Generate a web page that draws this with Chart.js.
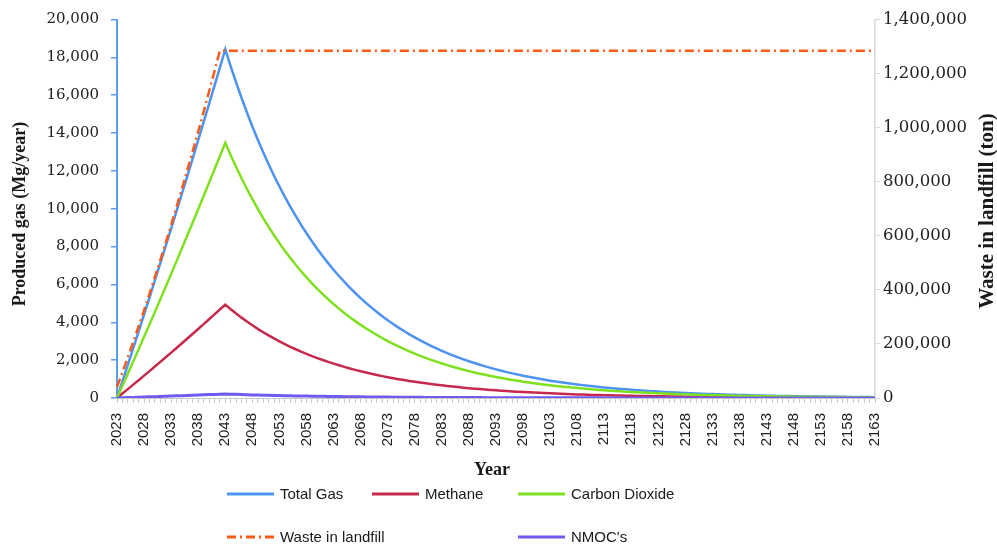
<!DOCTYPE html>
<html>
<head>
<meta charset="utf-8">
<script src="https://cdn.jsdelivr.net/npm/chart.js@4.4.1/dist/chart.umd.min.js"></script>
<style>
  html, body { margin: 0; padding: 0; background: #ffffff; }
  #wrap { width: 997px; height: 546px; position: relative; }
</style>
</head>
<body>
<div id="wrap"><canvas id="chart" width="997" height="546"></canvas></div>
<script>
// Years of the projection
const years = [
  2023, 2024, 2025, 2026, 2027, 2028, 2029, 2030, 2031, 2032,
  2033, 2034, 2035, 2036, 2037, 2038, 2039, 2040, 2041, 2042,
  2043, 2044, 2045, 2046, 2047, 2048, 2049, 2050, 2051, 2052,
  2053, 2054, 2055, 2056, 2057, 2058, 2059, 2060, 2061, 2062,
  2063, 2064, 2065, 2066, 2067, 2068, 2069, 2070, 2071, 2072,
  2073, 2074, 2075, 2076, 2077, 2078, 2079, 2080, 2081, 2082,
  2083, 2084, 2085, 2086, 2087, 2088, 2089, 2090, 2091, 2092,
  2093, 2094, 2095, 2096, 2097, 2098, 2099, 2100, 2101, 2102,
  2103, 2104, 2105, 2106, 2107, 2108, 2109, 2110, 2111, 2112,
  2113, 2114, 2115, 2116, 2117, 2118, 2119, 2120, 2121, 2122,
  2123, 2124, 2125, 2126, 2127, 2128, 2129, 2130, 2131, 2132,
  2133, 2134, 2135, 2136, 2137, 2138, 2139, 2140, 2141, 2142,
  2143, 2144, 2145, 2146, 2147, 2148, 2149, 2150, 2151, 2152,
  2153, 2154, 2155, 2156, 2157, 2158, 2159, 2160, 2161, 2162,
  2163
];

// Total landfill gas (Mg/year)
const totalGas = [
  0, 872, 1749, 2632, 3519, 4412, 5310, 6213, 7122, 8035,
  8953, 9877, 10806, 11740, 12680, 13625, 14574, 15529, 16489, 17454,
  18425,
  17526, 16672, 15859, 15085, 14349, 13650, 12984, 12351, 11748, 11175,
  10630, 10112, 9619, 9150, 8703, 8279, 7875, 7491, 7126, 6778,
  6448, 6133, 5834, 5549, 5279, 5021, 4777, 4544, 4322, 4111,
  3911, 3720, 3539, 3366, 3202, 3046, 2897, 2756, 2621, 2494,
  2372, 2256, 2146, 2042, 1942, 1847, 1757, 1672, 1590, 1512,
  1439, 1369, 1302, 1238, 1178, 1120, 1066, 1014, 964, 917,
  873, 830, 790, 751, 714, 680, 646, 615, 585, 556,
  529, 503, 479, 456, 433, 412, 392, 373, 355, 337,
  321, 305, 290, 276, 263, 250, 238, 226, 215, 205,
  195, 185, 176, 168, 159, 152, 144, 137, 131, 124,
  118, 112, 107, 102, 97, 92, 87, 83, 79, 75,
  72, 68, 65, 62, 59, 56, 53, 50, 48, 46
];

// Methane (Mg/year)
const methane = [
  0, 234, 468, 705, 942, 1182, 1422, 1664, 1907, 2152,
  2398, 2645, 2894, 3144, 3396, 3649, 3903, 4159, 4416, 4674,
  4934,
  4693, 4464, 4247, 4040, 3843, 3655, 3477, 3307, 3146, 2993,
  2847, 2708, 2576, 2450, 2331, 2217, 2109, 2006, 1908, 1815,
  1727, 1642, 1562, 1486, 1414, 1345, 1279, 1217, 1157, 1101,
  1047, 996, 948, 901, 857, 816, 776, 738, 702, 668,
  635, 604, 575, 547, 520, 495, 471, 448, 426, 405,
  385, 366, 349, 332, 315, 300, 285, 271, 258, 246,
  234, 222, 211, 201, 191, 182, 173, 165, 157, 149,
  142, 135, 128, 122, 116, 110, 105, 100, 95, 90,
  86, 82, 78, 74, 70, 67, 64, 61, 58, 55,
  52, 50, 47, 45, 43, 41, 39, 37, 35, 33,
  32, 30, 29, 27, 26, 25, 23, 22, 21, 20,
  19, 18, 17, 17, 16, 15, 14, 14, 13, 12
];

// Carbon dioxide (Mg/year)
const carbonDioxide = [
  0, 638, 1281, 1927, 2577, 3230, 3888, 4549, 5215, 5883,
  6555, 7232, 7912, 8596, 9284, 9976, 10671, 11370, 12073, 12780,
  13491,
  12833, 12208, 11612, 11045, 10506, 9995, 9507, 9044, 8602, 8182,
  7783, 7404, 7043, 6700, 6372, 6062, 5766, 5485, 5218, 4963,
  4721, 4491, 4272, 4063, 3865, 3676, 3498, 3327, 3165, 3010,
  2864, 2724, 2591, 2465, 2345, 2230, 2121, 2018, 1919, 1826,
  1737, 1652, 1571, 1495, 1422, 1352, 1286, 1224, 1164, 1107,
  1054, 1003, 953, 906, 863, 820, 781, 743, 706, 671,
  639, 608, 579, 550, 523, 498, 473, 450, 428, 407,
  387, 368, 351, 334, 317, 302, 287, 273, 260, 247,
  235, 223, 212, 202, 193, 183, 174, 165, 157, 150,
  143, 135, 129, 123, 116, 111, 105, 100, 96, 91,
  86, 82, 78, 75, 71, 67, 64, 61, 58, 55,
  53, 50, 48, 45, 43, 41, 39, 36, 35, 34
];

// Non-methane organic compounds (Mg/year)
const nmoc = [
  0, 10, 20, 30, 40, 51, 61, 71, 82, 92,
  103, 114, 124, 135, 146, 157, 168, 179, 190, 201,
  212,
  202, 192, 182, 174, 165, 157, 149, 142, 135, 129,
  122, 116, 111, 105, 100, 95, 91, 86, 82, 78,
  74, 71, 67, 64, 61, 58, 55, 52, 50, 47,
  45, 43, 41, 39, 37, 35, 33, 32, 30, 29,
  27, 26, 25, 23, 22, 21, 20, 19, 18, 17,
  17, 16, 15, 14, 14, 13, 12, 12, 11, 11,
  10, 10, 9, 9, 8, 8, 7, 7, 7, 6,
  6, 6, 6, 5, 5, 5, 5, 4, 4, 4,
  4, 4, 3, 3, 3, 3, 3, 3, 2, 2,
  2, 2, 2, 2, 2, 2, 2, 2, 2, 1,
  1, 1, 1, 1, 1, 1, 1, 1, 1, 1,
  1, 1, 1, 1, 1, 1, 1, 1, 1, 1
];

// Cumulative waste placed in the landfill (ton); closed after 2042
const wasteYears = [
  2023, 2024, 2025, 2026, 2027, 2028, 2029, 2030, 2031, 2032,
  2033, 2034, 2035, 2036, 2037, 2038, 2039, 2040, 2041, 2042,
  2163
];
const wasteTons = [
  40000, 94500, 150200, 207200, 265300, 324700, 385300, 447200, 510200, 574500,
  640000, 706700, 774700, 843800, 914200, 985800, 1058600, 1132700, 1208000, 1284500,
  1284500
];

const COLORS = {
  total: '#4d93f2',
  methane: '#c6294b',
  co2: '#7fe01f',
  waste: '#ff5a17',
  nmoc: '#6e5bef',
  leftAxis: '#5b9cf5',
  rightAxis: '#d3dadd',
  xAxis: '#c9c9c9'
};
const WASTE_DASH = [9, 4, 2, 4];

const fmt = v => Number(v).toLocaleString('en-US');

// Draws the axis titles (both read bottom-to-top) and the two-row legend
const decorations = {
  id: 'decorations',
  afterDraw(chart) {
    const ctx = chart.ctx;
    ctx.save();
    ctx.fillStyle = '#1a1a1a';
    ctx.textAlign = 'center';
    ctx.textBaseline = 'middle';

    ctx.font = 'bold 18px "Liberation Serif"';
    ctx.fillText('Year', 492, 470);

    ctx.save();
    ctx.translate(20, 214);
    ctx.rotate(-Math.PI / 2);
    ctx.font = 'bold 18px "Liberation Serif"';
    ctx.fillText('Produced gas (Mg/year)', 0, 0);
    ctx.restore();

    ctx.save();
    ctx.translate(988, 211);
    ctx.rotate(-Math.PI / 2);
    ctx.font = 'bold 21px "Liberation Serif"';
    ctx.fillText('Waste in landfill (ton)', 0, 0);
    ctx.restore();

    // legend: [dataset index, x of sample line start, row centre y]
    const slots = [[0, 227, 494], [1, 372, 494], [2, 518, 494], [3, 227, 537], [4, 518, 537]];
    ctx.font = '15px "Liberation Sans"';
    ctx.textAlign = 'left';
    slots.forEach(([i, x, y]) => {
      const ds = chart.data.datasets[i];
      ctx.beginPath();
      ctx.strokeStyle = ds.borderColor;
      ctx.lineWidth = 3;
      ctx.setLineDash(ds.borderDash || []);
      ctx.moveTo(x, y);
      ctx.lineTo(x + 47, y);
      ctx.stroke();
      ctx.setLineDash([]);
      ctx.fillStyle = '#1a1a1a';
      ctx.fillText(ds.label, x + 53, y + 1);
    });
    ctx.restore();
  }
};

new Chart(document.getElementById('chart'), {
  type: 'line',
  data: {
    labels: years,
    datasets: [
      { label: 'Total Gas', data: totalGas, borderColor: COLORS.total, yAxisID: 'y', order: 4 },
      { label: 'Methane', data: methane, borderColor: COLORS.methane, yAxisID: 'y', order: 3 },
      { label: 'Carbon Dioxide', data: carbonDioxide, borderColor: COLORS.co2, yAxisID: 'y', order: 2 },
      {
        label: 'Waste in landfill',
        data: wasteYears.map((yr, i) => ({ x: yr, y: wasteTons[i] })),
        borderColor: COLORS.waste, borderDash: WASTE_DASH, yAxisID: 'y1', order: 1
      },
      { label: "NMOC's", data: nmoc, borderColor: COLORS.nmoc, borderWidth: 3, yAxisID: 'y', order: 0 }
    ]
  },
  options: {
    responsive: false,
    animation: false,
    events: [],
    layout: { padding: { top: 8, left: 0, right: 0, bottom: 0 } },
    elements: {
      point: { radius: 0 },
      line: { borderWidth: 2.5, tension: 0, fill: false }
    },
    plugins: { legend: { display: false }, tooltip: { enabled: false } },
    scales: {
      x: {
        type: 'category',
        offset: false,
        grid: { display: true, drawOnChartArea: false, drawTicks: true, tickLength: 5, color: COLORS.xAxis },
        border: { display: true, color: COLORS.xAxis, width: 1 },
        ticks: {
          autoSkip: false, minRotation: 90, maxRotation: 90, padding: 10,
          color: '#222', font: { family: '"Liberation Sans"', size: 15 },
          callback(value, index) { return index % 5 === 0 ? String(this.getLabelForValue(value)) : ''; }
        },
        afterFit(scale) { scale.height = 148; }
      },
      y: {
        position: 'left', min: 0, max: 20000,
        grid: { display: true, drawOnChartArea: false, drawTicks: true, tickLength: 6, color: COLORS.leftAxis, lineWidth: 1.5 },
        border: { display: true, color: COLORS.leftAxis, width: 2 },
        ticks: {
          stepSize: 2000, padding: 12, color: '#222',
          font: { family: '"DejaVu Serif"', size: 15, lineHeight: 1 },
          callback: v => fmt(v)
        },
        afterFit(scale) { scale.width = 117; }
      },
      y1: {
        position: 'right', min: 0, max: 1400000,
        grid: { display: true, drawOnChartArea: false, drawTicks: true, tickLength: 5, color: COLORS.rightAxis },
        border: { display: true, color: COLORS.rightAxis, width: 1.5 },
        ticks: {
          stepSize: 200000, padding: 3, color: '#222',
          font: { family: '"DejaVu Serif"', size: 16.5, lineHeight: 1 },
          callback: v => fmt(v)
        },
        afterFit(scale) { scale.width = 122; }
      }
    }
  },
  plugins: [decorations]
});
</script>
</body>
</html>
